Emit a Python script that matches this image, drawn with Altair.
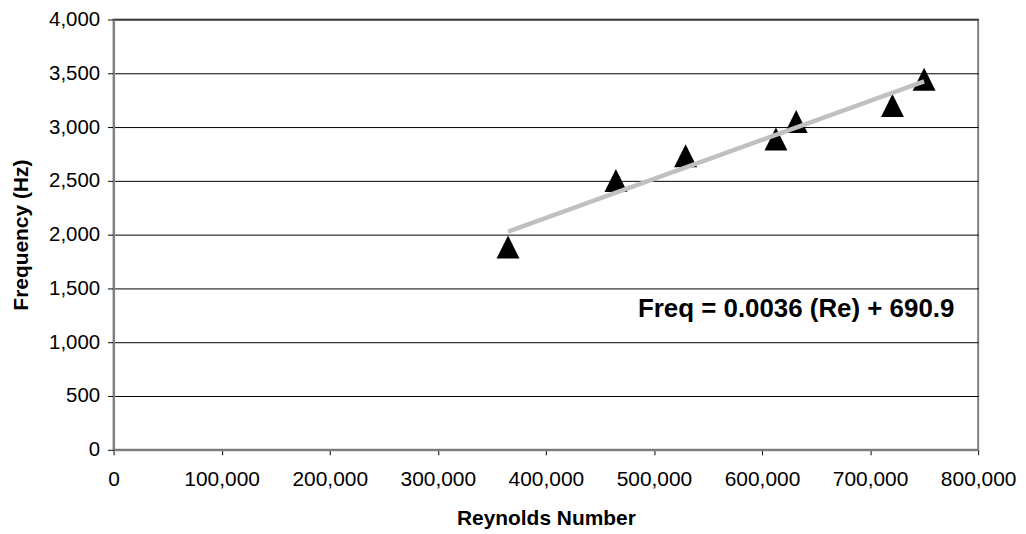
import altair as alt
import pandas as pd

reynolds = [365000, 464800, 529300, 612900, 631600, 720700, 750000]
frequency = [1885, 2503, 2734, 2889, 3051, 3200, 3444]

label_text = ["Freq = 0.0036 (Re) + 690.9"]
label_x = [778000]
label_y = [1236]

df = pd.DataFrame({"Re": reynolds, "Freq": frequency})
lab = pd.DataFrame({"Re": label_x, "Freq": label_y, "t": label_text})

FONT = "Liberation Sans"

x_scale = alt.Scale(domain=[0, 800000], nice=False, zero=True)
y_scale = alt.Scale(domain=[0, 4000], nice=False, zero=True)

x_axis = alt.Axis(
    title="Reynolds Number", format=",d", values=list(range(0, 800001, 100000)),
    grid=False, tickSize=5, labelPadding=14, labelFontSize=21, labelFont=FONT,
    labelColor="black", titleFont=FONT, titleFontSize=21, titleFontWeight="bold",
    titleColor="black", titleBaseline="alphabetic", titleY=75,
    domainColor="#808080", domainWidth=2, tickColor="black",
    labelFlush=False, labelOverlap=False,
)
y_axis = alt.Axis(
    title="Frequency (Hz)", format=",d", values=list(range(0, 4001, 500)),
    grid=True, gridColor="black", gridWidth=1, tickSize=6, labelPadding=8,
    labelFontSize=20.5, labelFont=FONT, labelColor="black",
    titleFont=FONT, titleFontSize=21, titleFontWeight="bold", titleColor="black",
    titleAngle=-90, titleBaseline="bottom", titleX=-82, titleY=216, titleAlign="center",
    domainColor="#808080", domainWidth=2, tickColor="black", labelFlush=False,
)

base = alt.Chart(df)

points = base.mark_point(
    shape="M0,-1L1,1L-1,1Z", size=529, filled=True, color="black", opacity=1
).encode(
    x=alt.X("Re:Q", scale=x_scale, axis=x_axis),
    y=alt.Y("Freq:Q", scale=y_scale, axis=y_axis),
)

trend = base.transform_regression("Re", "Freq").mark_line(
    color="#c0c0c0", strokeWidth=4.5
).encode(
    x=alt.X("Re:Q", scale=x_scale),
    y=alt.Y("Freq:Q", scale=y_scale),
)

text = alt.Chart(lab).mark_text(
    align="right", baseline="alphabetic", font=FONT, fontSize=26,
    fontWeight="bold", color="black"
).encode(
    x=alt.X("Re:Q", scale=x_scale),
    y=alt.Y("Freq:Q", scale=y_scale),
    text="t:N",
)

chart = alt.layer(points, trend, text).properties(
    width=868, height=432,
    autosize=alt.AutoSizeParams(type="none"),
    padding={"left": 106, "top": 10.5, "right": 40, "bottom": 80},
    background="white",
).configure_view(
    stroke="#808080", strokeWidth=2
)

chart.save("out.html", embed_options={"renderer": "svg", "actions": False})
